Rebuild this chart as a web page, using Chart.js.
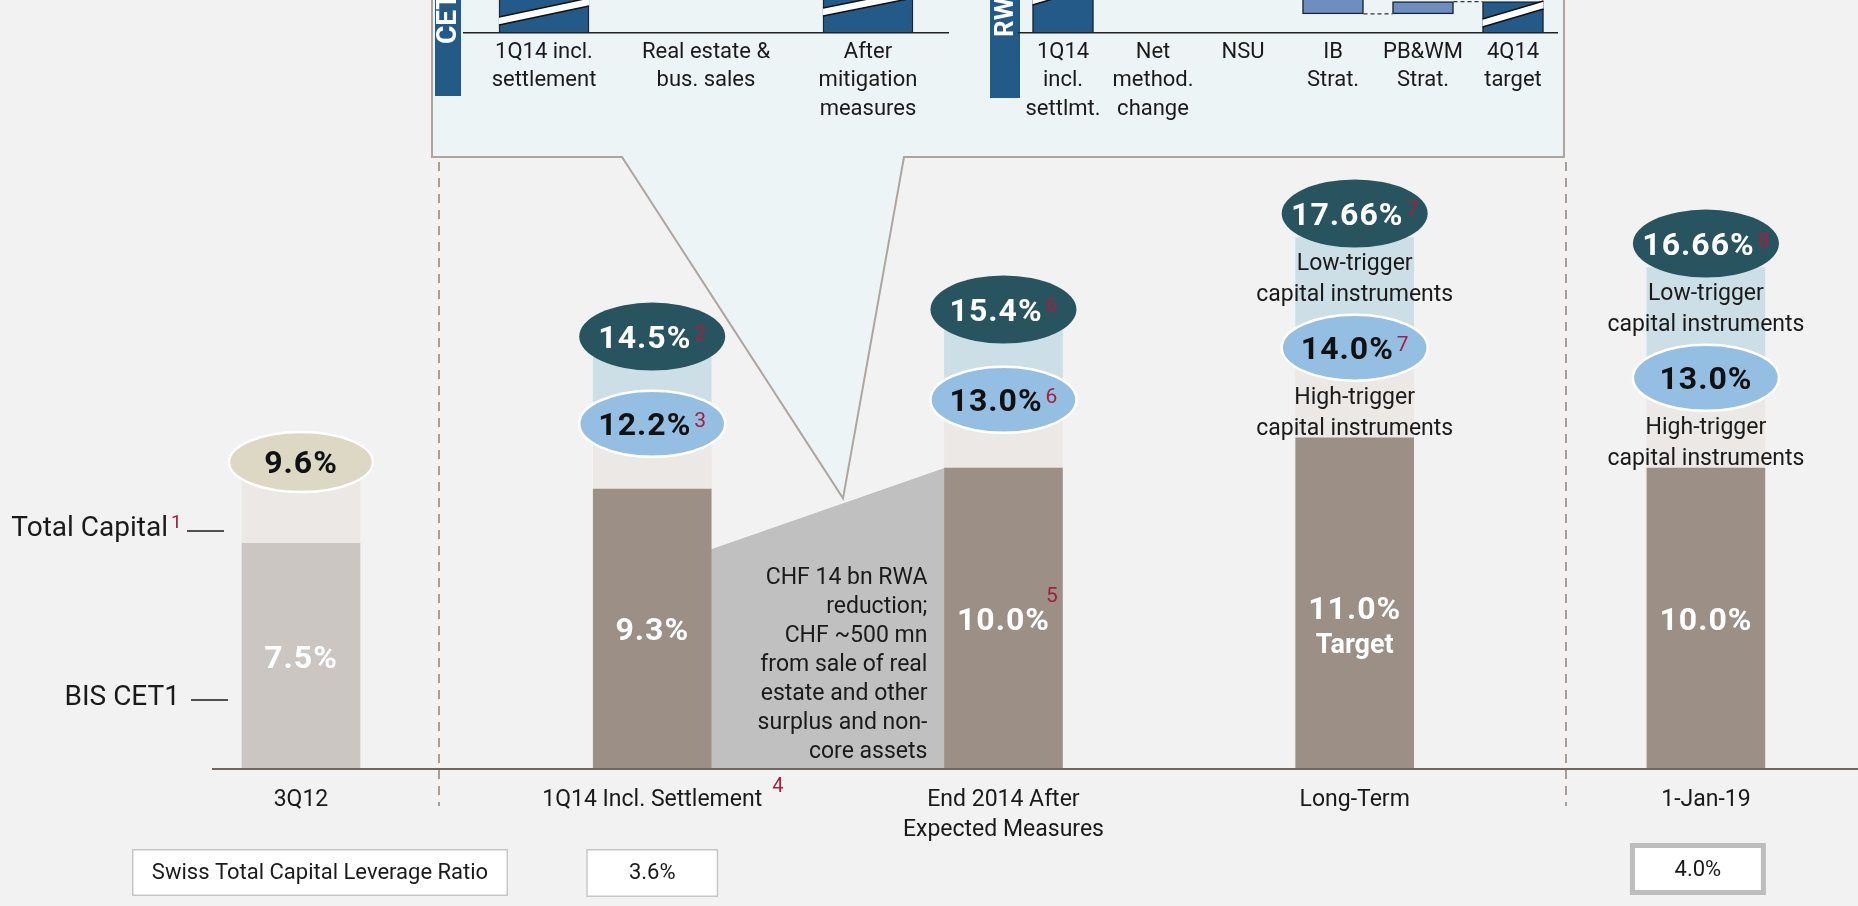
<!DOCTYPE html>
<html>
<head>
<meta charset="utf-8">
<script src="https://cdn.jsdelivr.net/npm/chart.js@4.4.1/dist/chart.umd.min.js"></script>
<style>
body { margin: 0; background: #f2f2f2; overflow: hidden; }
#wrap { position: relative; width: 1858px; height: 906px; }
canvas { position: absolute; }
</style>
</head>
<body>
<div id="wrap">
  <canvas id="main" width="1858" height="906" style="left:0;top:0"></canvas>
  <canvas id="cetInset" width="486" height="130" style="left:463px;top:0"></canvas>
  <canvas id="rwaInset" width="540" height="130" style="left:1018px;top:0"></canvas>
</div>
<script>
// main chart data (capital ratios in %)
const categories = ['3Q12', '1Q14 Incl. Settlement', ['End 2014 After', 'Expected Measures'], 'Long-Term', '1-Jan-19'];
const cet1 = [7.5, 9.3, 10.0, 11.0, 10.0];
const highTrigger = [9.6, 12.2, 13.0, 14.0, 13.0];   // 3Q12: total capital
const lowTrigger = [null, 14.5, 15.4, 17.66, 16.66];
const cet1Notes = ['', '', '5', '', ''];
const highNotes = ['', '3', '6', '7', ''];
const lowNotes = ['', '2', '6', '7', '8'];
const categoryNotes = ['', '4', '', '', ''];
const cet1Extra = ['', '', '', 'Target', ''];
const captioned = [false, false, false, true, true];
const leverage = [null, 3.6, null, null, 4.0];
const bridge = [7.3, 10.0];
const bridgeText = ['CHF 14 bn RWA', 'reduction;', 'CHF ~500 mn', 'from sale of real', 'estate and other', 'surplus and non-', 'core assets'];

// callout insets (bars are cut by the top edge)
const cetInsetLabels = [['1Q14 incl.', 'settlement'], ['Real estate &', 'bus. sales'], ['After', 'mitigation', 'measures']];
const cetInsetValues = [[0, 40], [40, 47], [0, 47]];
const rwaInsetLabels = [['1Q14', 'incl.', 'settlmt.'], ['Net', 'method.', 'change'], ['NSU'], ['IB', 'Strat.'], ['PB&WM', 'Strat.'], ['4Q14', 'target']];
const rwaInsetValues = [[0, 40], [33, 40], [20, 33], [5.8, 20], [5.8, 9.5], [0, 9.5]];

const FONT = 'Roboto, "Liberation Sans", Arial, sans-serif';
const RED = '#a61e3d';
Chart.defaults.font.family = FONT;
Chart.defaults.color = '#1a1a1a';

function fmt(v) {
  return Math.abs(v * 10 - Math.round(v * 10)) < 1e-6 ? v.toFixed(1) : v.toFixed(2);
}

function ellipse(ctx, cx, cy, rx, ry, fill, stroke) {
  ctx.beginPath();
  ctx.ellipse(cx, cy, rx, ry, 0, 0, Math.PI * 2);
  ctx.fillStyle = fill;
  ctx.fill();
  if (stroke) { ctx.lineWidth = 2.5; ctx.strokeStyle = stroke; ctx.stroke(); }
}

// big bold percentage with optional red footnote
function pctLabel(ctx, value, note, cx, cy, color, raised) {
  const main = fmt(value) + '%';
  ctx.save();
  ctx.letterSpacing = '1px';
  ctx.font = 'bold 32px ' + FONT;
  const w = ctx.measureText(main).width;
  ctx.letterSpacing = '0px';
  ctx.font = '21px ' + FONT;
  const sw = note && !raised ? ctx.measureText(note).width + 3 : 0;
  const x0 = cx - (w + sw) / 2;
  ctx.letterSpacing = '1px';
  ctx.font = 'bold 32px ' + FONT;
  ctx.fillStyle = color;
  ctx.textAlign = 'left';
  ctx.textBaseline = 'alphabetic';
  ctx.fillText(main, x0, cy + 11.4);
  if (note) {
    ctx.letterSpacing = '0px';
    ctx.font = '21px ' + FONT;
    ctx.fillStyle = RED;
    if (raised) ctx.fillText(note, x0 + w - 4, cy - 17);
    else ctx.fillText(note, x0 + w + 3, cy + 3);
  }
  ctx.restore();
}

function textLine(ctx, t, x, y, size, color, align, weight) {
  ctx.font = (weight || 'normal') + ' ' + size + 'px ' + FONT;
  ctx.fillStyle = color;
  ctx.textAlign = align;
  ctx.textBaseline = 'middle';
  ctx.fillText(t, x, y);
}

function tab(ctx, x, w, bottom, label, start, size) {
  ctx.fillStyle = '#245a88';
  ctx.fillRect(x, -4, w, bottom + 4);
  ctx.save();
  ctx.translate(x + w / 2, start);
  ctx.rotate(-Math.PI / 2);
  textLine(ctx, label, 0, 1, size, '#ffffff', 'left', 'bold');
  ctx.restore();
}

function box(ctx, x, y, w, h, lw, color) {
  ctx.fillStyle = '#ffffff';
  ctx.fillRect(x, y, w, h);
  ctx.lineWidth = lw;
  ctx.strokeStyle = color;
  ctx.strokeRect(x + lw / 2, y + lw / 2, w - lw, h - lw);
}

const annotations = {
  id: 'annotations',
  beforeDatasetsDraw(chart) {
    const ctx = chart.ctx, y = chart.scales.y;
    const bars = chart.getDatasetMeta(0).data;
    ctx.save();

    // dashed separators
    ctx.strokeStyle = '#a99e96';
    ctx.lineWidth = 2;
    ctx.setLineDash([9, 7]);
    [439, 1566].forEach(x => {
      ctx.beginPath(); ctx.moveTo(x, 162); ctx.lineTo(x, 806); ctx.stroke();
    });
    ctx.setLineDash([]);

    // RWA reduction bridge between 1Q14 and end 2014
    const b1 = bars[1], b2 = bars[2];
    const x1 = b1.x + b1.width / 2, x2 = b2.x - b2.width / 2;
    const base = y.getPixelForValue(0);
    const y1 = y.getPixelForValue(bridge[0]), y2 = y.getPixelForValue(bridge[1]);
    ctx.fillStyle = '#c0c0c0';
    ctx.beginPath();
    ctx.moveTo(x1, base); ctx.lineTo(x1, y1); ctx.lineTo(x2, y2); ctx.lineTo(x2, base);
    ctx.closePath(); ctx.fill();
    bridgeText.forEach((t, i) => textLine(ctx, t, x2 - 17, base - 191 + i * 29, 23, '#1a1a1a', 'right'));

    // callout box with pointer onto the bridge
    const tx = x1 + (x2 - x1) * 0.565, ty = y1 + (y2 - y1) * 0.565 - 5;
    ctx.beginPath();
    ctx.moveTo(432, -4); ctx.lineTo(432, 157); ctx.lineTo(622, 157); ctx.lineTo(tx, ty);
    ctx.lineTo(904, 157); ctx.lineTo(1564, 157); ctx.lineTo(1564, -4);
    ctx.closePath();
    ctx.fillStyle = '#ecf4f6'; ctx.fill();
    ctx.strokeStyle = '#aea59e'; ctx.lineWidth = 2; ctx.stroke();

    tab(ctx, 435, 26, 96, 'CET1', 44, 28);
    tab(ctx, 990, 30, 98, 'RWA', 37, 26);
    ctx.restore();
  },
  afterDatasetsDraw(chart) {
    const ctx = chart.ctx, y = chart.scales.y;
    const bars = chart.getDatasetMeta(0).data;
    ctx.save();
    bars.forEach((bar, i) => {
      const cx = bar.x;
      const mid = (y.getPixelForValue(0) + y.getPixelForValue(cet1[i])) / 2;
      if (cet1Extra[i]) {
        pctLabel(ctx, cet1[i], cet1Notes[i], cx, mid + 4, '#ffffff', true);
        textLine(ctx, cet1Extra[i], cx, mid + 43, 27, '#ffffff', 'center', 'bold');
      } else {
        pctLabel(ctx, cet1[i], cet1Notes[i], cx, mid, '#ffffff', true);
      }

      if (lowTrigger[i] == null) {
        const cy = y.getPixelForValue(highTrigger[i]) - 18;
        ellipse(ctx, cx, cy, 72, 30, '#dcd8c3', '#ffffff');
        pctLabel(ctx, highTrigger[i], highNotes[i], cx, cy, '#111111');
        return;
      }
      const cap = captioned[i];
      const ly = y.getPixelForValue(highTrigger[i]) + (cap ? 0 : 22);
      const dy = y.getPixelForValue(lowTrigger[i]) - (cap ? 24 : -4);
      if (cap) {
        textLine(ctx, 'Low-trigger', cx, dy + 51, 23, '#1a1a1a', 'center');
        textLine(ctx, 'capital instruments', cx, dy + 82, 23, '#1a1a1a', 'center');
        textLine(ctx, 'High-trigger', cx, ly + 51, 23, '#1a1a1a', 'center');
        textLine(ctx, 'capital instruments', cx, ly + 82, 23, '#1a1a1a', 'center');
      }
      ellipse(ctx, cx, ly, 73, 33, '#95bfe2', '#ffffff');
      pctLabel(ctx, highTrigger[i], highNotes[i], cx, ly, '#111111');
      ellipse(ctx, cx, dy, 73, 34, '#28545f', null);
      pctLabel(ctx, lowTrigger[i], lowNotes[i], cx, dy, '#ffffff');
    });
    ctx.restore();
  },
  afterDraw(chart) {
    const ctx = chart.ctx;
    const bars = chart.getDatasetMeta(0).data;
    ctx.save();

    // left legend labels
    textLine(ctx, 'Total Capital', 168, 529, 28, '#1a1a1a', 'right');
    ctx.font = '19px ' + FONT; ctx.fillStyle = RED; ctx.textAlign = 'left'; ctx.textBaseline = 'alphabetic';
    ctx.fillText('1', 171, 528);
    textLine(ctx, 'BIS CET1', 180, 698, 28, '#1a1a1a', 'right');
    ctx.strokeStyle = '#1a1a1a'; ctx.lineWidth = 1.5;
    ctx.beginPath(); ctx.moveTo(187, 531); ctx.lineTo(224, 531); ctx.moveTo(191, 700); ctx.lineTo(228, 700); ctx.stroke();

    // footnotes on category labels
    categoryNotes.forEach((n, i) => {
      if (!n) return;
      ctx.font = '23px ' + FONT;
      const w = ctx.measureText(categories[i]).width;
      ctx.font = '20px ' + FONT; ctx.fillStyle = RED; ctx.textAlign = 'left'; ctx.textBaseline = 'alphabetic';
      ctx.fillText(n, bars[i].x + w / 2 + 10, 792);
    });

    // leverage ratio row
    box(ctx, 132, 849, 376, 47, 1.5, '#c6c6c6');
    textLine(ctx, 'Swiss Total Capital Leverage Ratio', 320, 873, 22, '#1a1a1a', 'center');
    const lastIdx = leverage.map((v, i) => v == null ? -1 : i).reduce((a, b) => Math.max(a, b));
    leverage.forEach((v, i) => {
      if (v == null) return;
      const bx = i === lastIdx ? bars[i].x - 8 : bars[i].x;
      if (i === lastIdx) box(ctx, bx - 68, 843, 136, 52, 5, '#bdbdbd');
      else box(ctx, bx - 66, 849, 132, 48, 1.5, '#c6c6c6');
      textLine(ctx, v.toFixed(1) + '%', bx, i === lastIdx ? 870 : 873, 22, '#1a1a1a', 'center');
    });
    ctx.restore();
  }
};

new Chart(document.getElementById('main'), {
  type: 'bar',
  data: {
    datasets: [
      {
        label: 'BIS CET1',
        data: cet1.map((v, i) => ({ x: i, y: [0, v] })),
        backgroundColor: cet1.map((v, i) => i === 0 ? '#cbc6c1' : '#9b8f86')
      },
      {
        label: 'High-trigger capital instruments',
        data: highTrigger.map((v, i) => ({ x: i, y: [cet1[i], v] })),
        backgroundColor: '#ebe8e5'
      },
      {
        label: 'Low-trigger capital instruments',
        data: lowTrigger.map((v, i) => ({ x: i, y: v == null ? null : [highTrigger[i], v] })),
        backgroundColor: '#cddfe6'
      }
    ]
  },
  options: {
    responsive: false,
    animation: false,
    layout: { padding: { left: 213, right: 0, top: 0, bottom: 0 } },
    datasets: { bar: { grouped: false, barThickness: 118, borderWidth: 0 } },
    plugins: { legend: { display: false }, tooltip: { enabled: false } },
    scales: {
      x: {
        type: 'linear',
        min: -0.2505,
        max: 4.433,
        offset: false,
        grid: { display: false, drawTicks: false },
        border: { color: '#6f6760', width: 2, z: 1 },
        afterBuildTicks: axis => { axis.ticks = categories.map((c, i) => ({ value: i })); },
        afterFit: scale => { scale.height = 137; },
        ticks: {
          callback: v => categories[v],
          autoSkip: false, maxRotation: 0, minRotation: 0,
          padding: 17,
          color: '#1a1a1a',
          font: { size: 23, lineHeight: 1.28 }
        }
      },
      y: { display: false, min: 0, max: 25.55 }
    }
  },
  plugins: [annotations]
});

// axis-break stripes and waterfall connectors for the insets
function insetMarks(breaks) {
  return {
    id: 'insetMarks',
    afterDatasetsDraw(chart) {
      const ctx = chart.ctx, y = chart.scales.y, area = chart.chartArea;
      const bars = chart.getDatasetMeta(0).data;
      const vals = chart.data.datasets[0].data;
      ctx.save();
      ctx.beginPath();
      ctx.rect(area.left, area.top, area.right - area.left, area.bottom - area.top);
      ctx.clip();
      ctx.strokeStyle = '#333333';
      ctx.lineWidth = 1.2;
      ctx.setLineDash([4, 3]);
      for (let i = 0; i < bars.length - 1; i++) {
        const level = vals[i].find(v => vals[i + 1].includes(v));
        if (level === undefined) continue;
        const py = y.getPixelForValue(level);
        ctx.beginPath();
        ctx.moveTo(bars[i].x + bars[i].width / 2, py);
        ctx.lineTo(bars[i + 1].x - bars[i + 1].width / 2, py);
        ctx.stroke();
      }
      ctx.setLineDash([]);
      breaks.forEach(([i, yl, yr]) => {
        const b = bars[i], l = b.x - b.width / 2, r = b.x + b.width / 2, h = 4;
        ctx.beginPath();
        ctx.moveTo(l, area.top + yl - h); ctx.lineTo(r, area.top + yr - h);
        ctx.lineTo(r, area.top + yr + h); ctx.lineTo(l, area.top + yl + h);
        ctx.closePath();
        ctx.fillStyle = '#ffffff'; ctx.fill();
        ctx.strokeStyle = '#111111'; ctx.lineWidth = 1.5;
        ctx.beginPath();
        ctx.moveTo(l, area.top + yl - h); ctx.lineTo(r, area.top + yr - h);
        ctx.moveTo(l, area.top + yl + h); ctx.lineTo(r, area.top + yr + h);
        ctx.stroke();
      });
      ctx.restore();
    }
  };
}

function insetChart(id, labels, values, colors, thickness, breaks) {
  return new Chart(document.getElementById(id), {
    type: 'bar',
    data: {
      labels: labels,
      datasets: [{
        data: values,
        backgroundColor: colors,
        borderColor: '#1c2633',
        borderWidth: 1.5,
        borderSkipped: false,
        barThickness: thickness
      }]
    },
    options: {
      responsive: false,
      animation: false,
      layout: { padding: 0 },
      plugins: { legend: { display: false }, tooltip: { enabled: false } },
      scales: {
        x: {
          grid: { display: false, drawTicks: false },
          border: { color: '#222222', width: 1.5, z: 1 },
          afterFit: scale => { scale.height = 97; },
          ticks: { autoSkip: false, maxRotation: 0, minRotation: 0, padding: 5, color: '#1a1a1a', font: { size: 22, lineHeight: 1.3 } }
        },
        y: { display: false, min: 0, max: 10 }
      }
    },
    plugins: [insetMarks(breaks)]
  });
}

insetChart('cetInset', cetInsetLabels, cetInsetValues, cetInsetValues.map(() => '#245a88'), 90,
  [[0, 21, 2], [2, 12, -6]]);
insetChart('rwaInset', rwaInsetLabels, rwaInsetValues,
  rwaInsetValues.map((v, i) => (v[0] === 0 ? '#245a88' : '#6e8ebf')), 61,
  [[0, 1, -17], [5, 23, 5]]);
</script>
</body>
</html>
